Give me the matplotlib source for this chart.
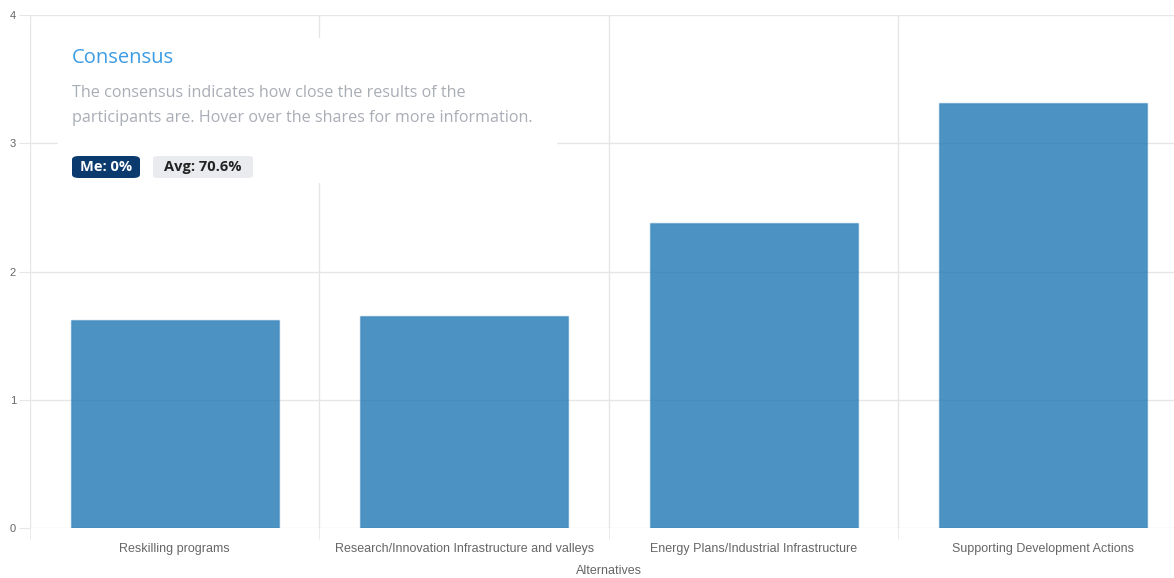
import matplotlib.pyplot as plt
from matplotlib.patches import FancyBboxPatch, Rectangle

categories = ["Reskilling programs",
              "Research/Innovation Infrastructure and valleys",
              "Energy Plans/Industrial Infrastructure",
              "Supporting Development Actions"]
values = [1.62, 1.65, 2.38, 3.31]
y_ticks = [0, 1, 2, 3, 4]

plt.rcParams['font.family'] = ['Liberation Sans', 'DejaVu Sans']

W, H = 1174, 578
fig = plt.figure(figsize=(W / 100, H / 100), dpi=100)
ax = fig.add_axes([30 / W, 50 / H, 1158 / W, 513 / H])

x = range(len(categories))
ax.bar(x, values, width=0.72, color=(31/255, 119/255, 180/255, 0.8),
       edgecolor=(31/255, 119/255, 180/255, 0.35), linewidth=1.0, zorder=2)

ax.set_xlim(-0.5, len(categories) - 0.5)
ax.set_ylim(0, 4)
ax.set_yticks(y_ticks)
ax.set_xticks(list(x))
ax.set_xticklabels(categories)
ax.set_xticks([i - 0.5 for i in range(len(categories) + 1)], minor=True)

ax.grid(False)
for yv in y_ticks:
    ax.axhline(yv, color='#e6e6e6', lw=1, zorder=1)
for i in range(len(categories) + 1):
    ax.axvline(i - 0.5, color='#e6e6e6', lw=1, zorder=1)

for s in ax.spines.values():
    s.set_visible(False)
ax.tick_params(axis='y', length=8, color='#e6e6e6', labelcolor='#666666',
               labelsize=8, pad=2)
ax.tick_params(axis='x', which='major', length=0, labelcolor='#666666',
               labelsize=9, pad=11)
ax.tick_params(axis='x', which='minor', length=8, color='#e6e6e6')
ax.set_xlabel("Alternatives", fontsize=9, color='#666666', labelpad=7)

# tooltip overlay box
fig.patches.append(Rectangle((58 / W, 1 - 183 / H), 499 / W, 145 / H,
                             transform=fig.transFigure, facecolor='white',
                             edgecolor='none', zorder=5))
fig.text(72 / W, 1 - 58 / H, "Consensus", fontsize=14.5, color='#3b9be3',
         va='center', ha='left', zorder=6, family=['Open Sans', 'DejaVu Sans'])
fig.text(72 / W, 1 - 93 / H, "The consensus indicates how close the results of the",
         fontsize=11.6, color='#a9adb5', va='center', ha='left', zorder=6,
         family=['Open Sans', 'DejaVu Sans'])
fig.text(72 / W, 1 - 118 / H, "participants are. Hover over the shares for more information.",
         fontsize=11.6, color='#a9adb5', va='center', ha='left', zorder=6,
         family=['Open Sans', 'DejaVu Sans'])

fig.patches.append(FancyBboxPatch((72 / W, 1 - 178 / H), 68 / W, 22 / H,
                                  boxstyle="round,pad=0,rounding_size=0.006",
                                  transform=fig.transFigure, facecolor='#0b3a6e',
                                  edgecolor='none', zorder=6))
fig.text(106 / W, 1 - 167 / H, "Me: 0%", fontsize=10.5, color='white',
         fontweight='bold', va='center', ha='center', zorder=7,
         family=['Open Sans', 'DejaVu Sans'])
fig.patches.append(FancyBboxPatch((153 / W, 1 - 178 / H), 100 / W, 22 / H,
                                  boxstyle="round,pad=0,rounding_size=0.004",
                                  transform=fig.transFigure, facecolor='#e9ebee',
                                  edgecolor='none', zorder=6))
fig.text(203 / W, 1 - 167 / H, "Avg: 70.6%", fontsize=10.5, color='#222222',
         fontweight='bold', va='center', ha='center', zorder=7,
         family=['Open Sans', 'DejaVu Sans'])

fig.savefig("out.png", dpi=100)
